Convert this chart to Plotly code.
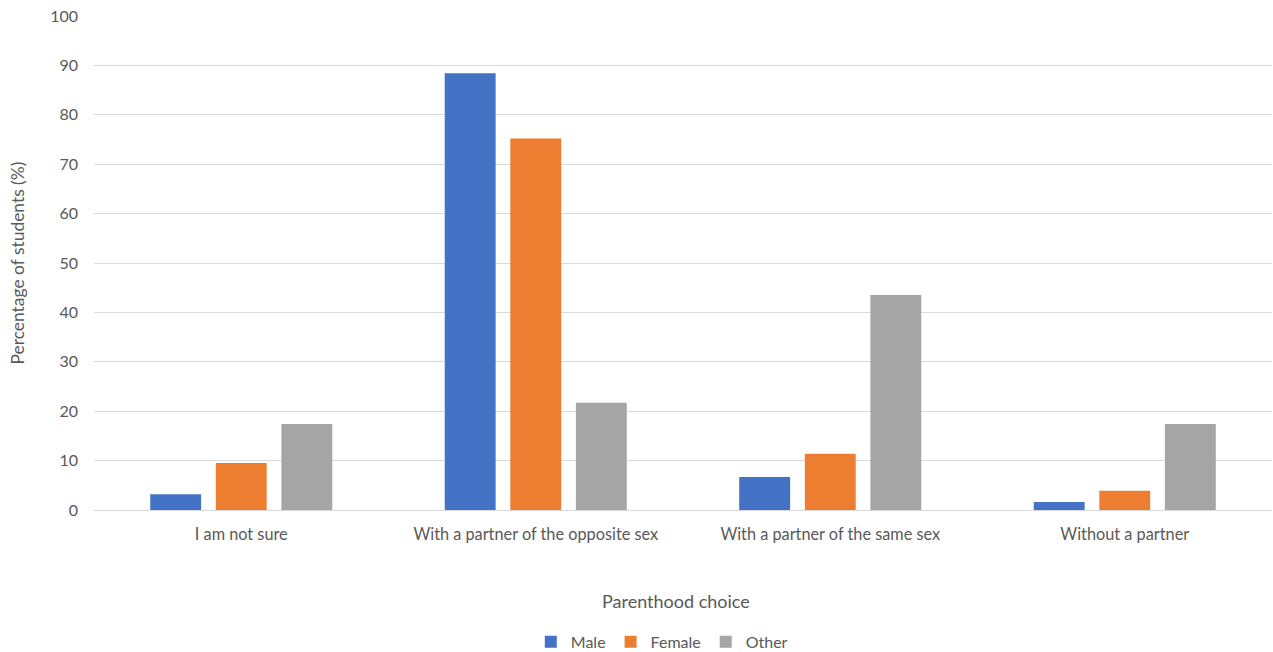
import plotly.graph_objects as go

categories = ["I am not sure", "With a partner of the opposite sex",
              "With a partner of the same sex", "Without a partner"]
male = [3.2, 88.4, 6.7, 1.6]
female = [9.5, 75.2, 11.4, 3.9]
other = [17.4, 21.7, 43.5, 17.4]
y_ticks = [0, 10, 20, 30, 40, 50, 60, 70, 80, 90, 100]

series = [("Male", male, "#4472C4"), ("Female", female, "#ED7D31"), ("Other", other, "#A5A5A5")]

FONT = "Lato, Open Sans, sans-serif"
TXT = "#595959"

fig = go.Figure()
for name, vals, col in series:
    fig.add_trace(go.Bar(x=categories, y=vals, name=name, marker_color=col,
                         marker_line_width=0))

fig.update_layout(
    width=1273, height=652,
    margin=dict(l=94, r=1, t=16, b=142, autoexpand=False),
    paper_bgcolor="white", plot_bgcolor="white",
    barmode="group", bargap=0.332, bargroupgap=0.224,
    font=dict(family=FONT, size=16, color=TXT),
    showlegend=True,
    legend=dict(orientation="h", x=0.482, xanchor="center", y=-0.267, yanchor="middle",
                font=dict(size=16, color=TXT), itemwidth=30, traceorder="normal"),
    xaxis=dict(showgrid=False, showline=True, linecolor="#D9D9D9", linewidth=1,
               ticks="", ticklabelstandoff=9, tickfont=dict(size=16.3, color=TXT)),
    yaxis=dict(range=[0, 100], tickvals=y_ticks, showgrid=True, gridcolor="#D9D9D9",
               gridwidth=1, zeroline=False, showline=False, ticks="",
               ticklabelstandoff=15, tickfont=dict(size=16, color=TXT)),
    annotations=[
        dict(text="Parenthood choice", xref="paper", yref="paper", x=0.494, y=-0.184,
             xanchor="center", yanchor="middle", showarrow=False,
             font=dict(size=18, color=TXT)),
        dict(text="Percentage of students (%)", xref="paper", yref="paper",
             x=-0.065, y=0.5, xanchor="center", yanchor="middle", textangle=-90,
             showarrow=False, font=dict(size=17.4, color=TXT)),
    ],
)

fig.write_html("out.html")
